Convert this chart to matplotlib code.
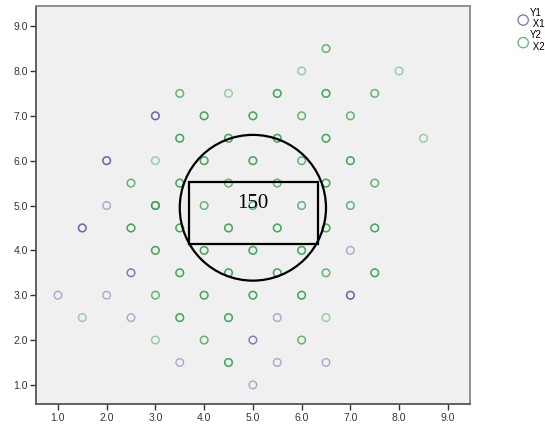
import matplotlib
matplotlib.use("Agg")
import matplotlib.pyplot as plt
from matplotlib.patches import Ellipse, Rectangle
import numpy as np

# group 1 (Y1 / X1), blue; n = how many cases sit on the same spot
x1 = [3.0, 2.0, 2.0, 1.5, 7.0, 2.5, 1.0, 2.0, 7.0, 2.5, 5.5, 5.0, 3.5, 5.5, 6.5, 5.0, 3.0]
y1 = [7.0, 6.0, 5.0, 4.5, 4.0, 3.5, 3.0, 3.0, 3.0, 2.5, 2.5, 2.0, 1.5, 1.5, 1.5, 1.0, 5.0]
n1 = [3, 3, 1, 3, 1, 2, 1, 1, 3, 1, 1, 2, 1, 1, 1, 1, 1]

# group 2 (Y2 / X2), green
x2 = [6.5,
      6.0, 8.0,
      3.5, 4.5, 5.5, 6.5, 7.5,
      4.0, 5.0, 6.0, 7.0,
      3.5, 4.5, 5.5, 6.5, 8.5,
      3.0, 4.0, 5.0, 6.0, 7.0,
      2.5, 3.5, 4.5, 5.5, 6.5, 7.5,
      3.0, 4.0, 5.0, 6.0, 7.0,
      2.5, 3.5, 4.5, 5.5, 6.5, 7.5,
      3.0, 4.0, 5.0, 6.0,
      3.5, 4.5, 5.5, 6.5, 7.5,
      3.0, 4.0, 5.0, 6.0,
      1.5, 3.5, 4.5, 6.5,
      3.0, 4.0, 6.0,
      4.5]
y2 = [8.5,
      8.0, 8.0,
      7.5, 7.5, 7.5, 7.5, 7.5,
      7.0, 7.0, 7.0, 7.0,
      6.5, 6.5, 6.5, 6.5, 6.5,
      6.0, 6.0, 6.0, 6.0, 6.0,
      5.5, 5.5, 5.5, 5.5, 5.5, 5.5,
      5.0, 5.0, 5.0, 5.0, 5.0,
      4.5, 4.5, 4.5, 4.5, 4.5, 4.5,
      4.0, 4.0, 4.0, 4.0,
      3.5, 3.5, 3.5, 3.5, 3.5,
      3.0, 3.0, 3.0, 3.0,
      2.5, 2.5, 2.5, 2.5,
      2.0, 2.0, 2.0,
      1.5]
n2 = [2,
      1, 1,
      2, 1, 3, 3, 2,
      3, 3, 2, 2,
      3, 3, 3, 3, 1,
      1, 3, 3, 2, 3,
      2, 3, 2, 2, 3, 2,
      3, 2, 2, 2, 2,
      3, 3, 3, 3, 3, 3,
      3, 3, 3, 3,
      3, 3, 3, 2, 3,
      2, 3, 3, 3,
      1, 3, 3, 1,
      1, 2, 2,
      3]

ticks = [1.0, 2.0, 3.0, 4.0, 5.0, 6.0, 7.0, 8.0, 9.0]
tick_labels = ["1.0", "2.0", "3.0", "4.0", "5.0", "6.0", "7.0", "8.0", "9.0"]
label1 = "Y1\n X1"
label2 = "Y2\n X2"
blue = "#4c4f9e"
green = "#24993c"

plt.rcParams["font.family"] = ["Liberation Sans", "DejaVu Sans"]

fig = plt.figure(figsize=(5.45, 4.25), dpi=100)
ax = fig.add_axes([0.066, 0.049, 0.796, 0.937])
ax.set_facecolor("#f0f0f0")

ax.scatter(np.repeat(x1, n1), np.repeat(y1, n1), s=30, facecolors="none",
           edgecolors=blue, linewidths=1.0, alpha=0.45, zorder=3)
ax.scatter(np.repeat(x2, n2), np.repeat(y2, n2), s=30, facecolors="none",
           edgecolors=green, linewidths=1.0, alpha=0.45, zorder=3)

# hand-drawn circle, box and count
ax.add_patch(Ellipse((5.0, 4.95), 3.0, 3.25, fill=False, ec="black", lw=1.6, zorder=4))
ax.add_patch(Rectangle((3.69, 4.14), 2.64, 1.39, fill=False, ec="black", lw=1.6, zorder=4))
ax.text(5.0, 5.05, "150", fontsize=15, family="Liberation Serif", ha="center",
        va="center", zorder=5)

ax.set_xlim(0.55, 9.45)
ax.set_ylim(0.57, 9.45)
ax.set_xticks(ticks)
ax.set_xticklabels(tick_labels)
ax.set_yticks(ticks)
ax.set_yticklabels(tick_labels)
ax.tick_params(labelsize=7.5, colors="#333333", length=4, width=1.0, pad=2)

for side in ["left", "bottom"]:
    ax.spines[side].set_color("#555555")
    ax.spines[side].set_linewidth(1.3)
for side in ["top", "right"]:
    ax.spines[side].set_color("#888888")
    ax.spines[side].set_linewidth(1.3)

# legend outside on the right
h1 = ax.scatter([], [], s=55, facecolors="none", edgecolors="#7073b8", linewidths=0.9)
h2 = ax.scatter([], [], s=55, facecolors="none", edgecolors="#5cb86a", linewidths=0.9)
fig.legend([h1, h2], [label1, label2], loc="upper left", bbox_to_anchor=(0.943, 0.993),
           frameon=False, fontsize=7, handletextpad=0.25, labelspacing=0.1,
           borderpad=0, handlelength=0.9)

fig.savefig("out.png", dpi=100)
